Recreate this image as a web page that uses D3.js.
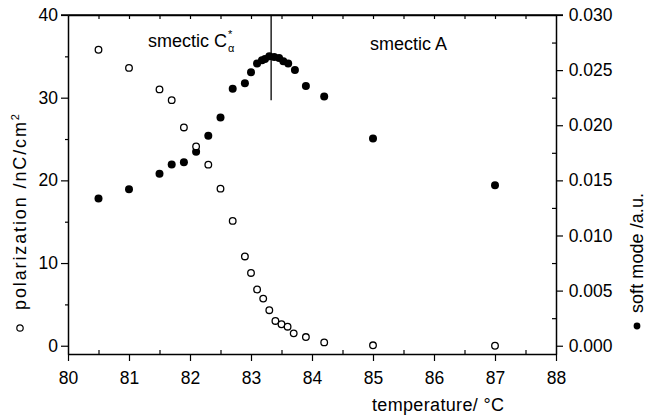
<!DOCTYPE html>
<html>
<head>
<meta charset="utf-8">
<script src="https://cdn.jsdelivr.net/npm/d3@7"></script>
<style>
  body { margin: 0; background: #fff; }
  text { font-family: "Liberation Sans", Arial, sans-serif; fill: #000; }
  .domain { stroke: #000; stroke-width: 1.5; }
  .tick line { stroke: #000; stroke-width: 1.2; }
</style>
</head>
<body>
<svg id="chart" width="647" height="416"></svg>
<script>
 // polarization (open circles)
 let polTemp = [80.5, 81.0, 81.5, 81.7, 81.9, 82.1, 82.3, 82.5, 82.7, 82.9, 83.0, 83.1, 83.2, 83.3, 83.4, 83.5, 83.6, 83.7, 83.9, 84.2, 85.0, 87.0];
 let polValue = [35.8, 33.6, 31.0, 29.7, 26.4, 24.1, 21.9, 19.0, 15.1, 10.8, 8.8, 6.8, 5.7, 4.3, 3.0, 2.6, 2.3, 1.5, 1.05, 0.4, 0.05, 0.0];

 // soft mode (filled circles)
 let softTemp = [80.5, 81.0, 81.5, 81.7, 81.9, 82.1, 82.3, 82.5, 82.7, 82.9, 83.0, 83.1, 83.18, 83.23, 83.3, 83.38, 83.46, 83.53, 83.61, 83.72, 83.9, 84.2, 85.0, 87.0];
 let softValue = [0.01335, 0.0142, 0.0156, 0.01643, 0.01665, 0.0176, 0.01905, 0.0207, 0.0233, 0.0238, 0.0248, 0.0256, 0.0259, 0.0260, 0.02625, 0.0262, 0.0261, 0.0258, 0.0256, 0.0250, 0.02355, 0.0226, 0.0188, 0.01455];

 let xTicks = [80, 81, 82, 83, 84, 85, 86, 87, 88];
 let leftTicks = [0, 10, 20, 30, 40];
 let rightTicks = [0.000, 0.005, 0.010, 0.015, 0.020, 0.025, 0.030];

 let transitionTemp = 83.33;

 let svg = d3.select("svg#chart");
 let width = svg.attr("width");
 let height = svg.attr("height");
 let margin = {top: 15, right: 91, bottom: 62, left: 68};
 let chartWidth = width - margin.left - margin.right;
 let chartHeight = height - margin.top - margin.bottom;

 const xScale = d3.scaleLinear().domain([80, 88]).range([margin.left, margin.left + chartWidth]);
 const yLeft = d3.scaleLinear().domain([-1, 40]).range([margin.top + chartHeight, margin.top]);
 const yRight = d3.scaleLinear().domain([-0.00075, 0.030]).range([margin.top + chartHeight, margin.top]);

 const tickFont = 17.5;
 const labelFont = 18;
 let minorX = d3.range(80.5, 88, 1);
 let halfX = d3.range(80.5, 88, 0.5);

 // bottom axis
 svg.append("g").attr("transform", `translate(0,${margin.top + chartHeight})`)
     .call(d3.axisBottom(xScale).tickValues(xTicks).tickSize(7).tickSizeOuter(0).tickFormat(d3.format("d")))
     .call(g => g.selectAll("text").attr("font-size", tickFont).attr("dy", "1.15em"));
 svg.append("g").attr("transform", `translate(0,${margin.top + chartHeight})`)
     .call(d3.axisTop(xScale).tickValues(minorX).tickSize(4).tickFormat(""))
     .call(g => g.select(".domain").remove());

 // top axis
 svg.append("g").attr("transform", `translate(0,${margin.top})`)
     .call(d3.axisBottom(xScale).tickValues(halfX).tickSize(4).tickSizeOuter(0).tickFormat(""));

 // left axis
 svg.append("g").attr("transform", `translate(${margin.left},0)`)
     .call(d3.axisLeft(yLeft).tickValues(leftTicks).tickSize(7).tickSizeOuter(0).tickFormat(d3.format("d")))
     .call(g => g.selectAll("text").attr("font-size", tickFont));
 svg.append("g").attr("transform", `translate(${margin.left},0)`)
     .call(d3.axisLeft(yLeft).tickValues([5, 15, 25, 35]).tickSize(3).tickFormat(""))
     .call(g => g.select(".domain").remove());

 // right axis
 svg.append("g").attr("transform", `translate(${margin.left + chartWidth},0)`)
     .call(d3.axisRight(yRight).tickValues(rightTicks).tickSize(7).tickSizeOuter(0).tickFormat(d3.format(".3f")))
     .call(g => g.selectAll("text").attr("font-size", tickFont).attr("dx", "0.15em"));
 svg.append("g").attr("transform", `translate(${margin.left + chartWidth},0)`)
     .call(d3.axisLeft(yRight).tickValues([0.0025, 0.0075, 0.0125, 0.0175, 0.0225, 0.0275]).tickSize(4).tickFormat(""))
     .call(g => g.select(".domain").remove());

 // top line extends to the 0.030 tick
 svg.append("line")
     .attr("x1", margin.left - 7).attr("x2", margin.left + chartWidth + 7)
     .attr("y1", margin.top).attr("y2", margin.top)
     .attr("stroke", "#000").attr("stroke-width", 1.5);

 // phase boundary
 svg.append("line")
     .attr("x1", xScale(transitionTemp)).attr("x2", xScale(transitionTemp))
     .attr("y1", yLeft(40)).attr("y2", yLeft(29.7))
     .attr("stroke", "#000").attr("stroke-width", 1.3);

 let softData = softTemp.map((t, i) => ({t: t, v: softValue[i]}));
 let polData = polTemp.map((t, i) => ({t: t, v: polValue[i]}));

 svg.append("g").selectAll("circle")
     .data(softData)
     .join("circle")
     .attr("cx", d => xScale(d.t))
     .attr("cy", d => yRight(d.v))
     .attr("r", 4)
     .attr("fill", "#000");

 svg.append("g").selectAll("circle")
     .data(polData)
     .join("circle")
     .attr("cx", d => xScale(d.t))
     .attr("cy", d => yLeft(d.v))
     .attr("r", 3.3)
     .attr("fill", "#fff")
     .attr("stroke", "#000")
     .attr("stroke-width", 1.3);

 // phase labels: C with * above and alpha below, placed after the measured text
 let cLabel = svg.append("text").attr("x", 148).attr("y", 47).attr("font-size", labelFont).text("smectic C");
 let cEnd = 148 + cLabel.node().getComputedTextLength();
 svg.append("text").attr("x", cEnd + 1).attr("y", 38).attr("font-size", 11).text("*");
 svg.append("text").attr("x", cEnd + 1).attr("y", 52).attr("font-size", 11).text("α");
 svg.append("text").attr("x", 370).attr("y", 50).attr("font-size", labelFont).text("smectic A");

 // axis titles
 let leftTitle = svg.append("g").attr("transform", "translate(26,0)");
 leftTitle.append("circle").attr("cx", -6).attr("cy", 328).attr("r", 3.2)
     .attr("fill", "#fff").attr("stroke", "#000").attr("stroke-width", 1.2);
 let lt = leftTitle.append("text").attr("transform", "translate(0,310) rotate(-90)").attr("font-size", labelFont);
 lt.append("tspan").attr("textLength", 188).attr("lengthAdjust", "spacing").text("polarization /nC/cm");
 lt.append("tspan").attr("font-size", 11).attr("dy", -7).text("2");

 let rightTitle = svg.append("g").attr("transform", "translate(643,0)");
 rightTitle.append("circle").attr("cx", -6).attr("cy", 326).attr("r", 3.4).attr("fill", "#000");
 rightTitle.append("text").attr("transform", "translate(0,313) rotate(-90)")
     .attr("font-size", labelFont).attr("textLength", 120).attr("lengthAdjust", "spacing")
     .text("soft mode /a.u.");

 svg.append("text").attr("x", 372).attr("y", 411).attr("font-size", labelFont)
     .attr("textLength", 132).attr("lengthAdjust", "spacing").text("temperature/ °C");
</script>
</body>
</html>
